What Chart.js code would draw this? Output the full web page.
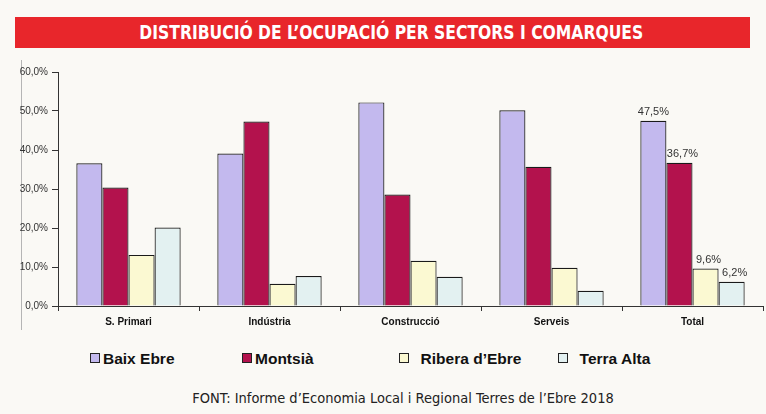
<!DOCTYPE html>
<html>
<head>
<meta charset="utf-8">
<script src="https://cdn.jsdelivr.net/npm/chart.js@4.4.1/dist/chart.umd.min.js"></script>
<style>
  body { margin: 0; background: #faf9f5; }
  #wrap { position: relative; width: 766px; height: 414px; overflow: hidden; background: #faf9f5; }
  #titol {
    position: absolute; left: 15px; top: 17px; width: 735px; height: 31px;
    background: #e8262b; color: #fff; text-align: center;
    font: bold 19px "DejaVu Sans", sans-serif;
    line-height: 31px;
  }
  #titol span { display: inline-block; transform: translateX(9px) scaleX(0.82); transform-origin: center; }
  #vora { position: absolute; left: 21px; top: 60px; width: 1px; height: 270px; background: #b5b5b5; }
  #graf { position: absolute; left: 0; top: 60px; width: 766px; height: 273px; }
  #llegenda { position: absolute; top: 350px; left: 0; width: 766px; height: 22px;
    font: bold 15.5px "Liberation Sans", Arial, sans-serif; color: #111; }
  #llegenda span { position: absolute; top: 0; white-space: nowrap; }
  #llegenda i { display: inline-block; width: 8px; height: 8px; border: 1px solid #222; margin-right: 3px; vertical-align: 1px; }
  #font { position: absolute; top: 390px; left: 20px; width: 766px; text-align: center;
    font: 14.5px "Liberation Sans Narrow", "DejaVu Sans Condensed", sans-serif; color: #222; }
</style>
</head>
<body>
<div id="wrap">
  <div id="titol"><span>DISTRIBUCIÓ DE L’OCUPACIÓ PER SECTORS I COMARQUES</span></div>
  <div id="vora"></div>
  <div id="graf"><canvas id="grafic"></canvas></div>
  <div id="llegenda"></div>
  <div id="font">FONT: Informe d’Economia Local i Regional Terres de l’Ebre 2018</div>
</div>
<script>
// sectors i comarques
const sectors = ['S. Primari', 'Indústria', 'Construcció', 'Serveis', 'Total'];
const comarques = ['Baix Ebre', 'Montsià', 'Ribera d’Ebre', 'Terra Alta'];

// percentatges llegits del gràfic
const baixEbre = [36.6, 39.1, 52.2, 50.2, 47.5];
const montsia = [30.4, 47.3, 28.6, 35.7, 36.7];
const riberaEbre = [13.1, 5.7, 11.6, 9.8, 9.6];
const terraAlta = [20.1, 7.7, 7.5, 3.9, 6.2];

const colors = ['#c3b9ee', '#b3124d', '#fbf9d2', '#e3f1f1'];
const valors = [baixEbre, montsia, riberaEbre, terraAlta];

// posicio de la llegenda (x de cada element)
const posLlegenda = [90, 242, 399, 558];

const llegenda = document.getElementById('llegenda');
comarques.forEach(function (nom, i) {
  const s = document.createElement('span');
  s.style.left = posLlegenda[i] + 'px';
  s.innerHTML = '<i style="background:' + colors[i] + '"></i>' + (i > 1 ? '&nbsp;&nbsp;' : '') + nom;
  llegenda.appendChild(s);
});

function percent(v) {
  return v.toFixed(1).replace('.', ',') + '%';
}

// etiquetes només al grup Total
const etiquetesTotal = {
  id: 'etiquetesTotal',
  afterDatasetsDraw(chart) {
    const ctx = chart.ctx;
    const idx = sectors.length - 1;
    ctx.save();
    ctx.font = '11px "Liberation Sans", Arial, sans-serif';
    ctx.fillStyle = '#333';
    ctx.textAlign = 'center';
    ctx.textBaseline = 'bottom';
    chart.data.datasets.forEach(function (ds, i) {
      const bar = chart.getDatasetMeta(i).data[idx];
      ctx.fillText(percent(ds.data[idx]), bar.x + (i > 0 ? 3 : 0), bar.y - 3);
    });
    ctx.restore();
  }
};

const dataOcupacio = {
  labels: sectors,
  datasets: comarques.map(function (nom, i) {
    return {
      label: nom,
      data: valors[i],
      backgroundColor: colors[i],
      borderColor: '#1a1a1a',
      borderWidth: 1.2,
      categoryPercentage: 0.74,
      barPercentage: 1.0,
    };
  })
};

const configOcupacio = {
  type: 'bar',
  data: dataOcupacio,
  options: {
    responsive: true,
    maintainAspectRatio: false,
    animation: false,
    layout: { padding: { top: 12, right: 3, left: 0, bottom: 0 } },
    plugins: {
      legend: { display: false },
      tooltip: { enabled: false },
    },
    scales: {
      x: {
        grid: { drawOnChartArea: false, drawTicks: true, tickLength: 5, color: '#333' },
        border: { color: '#333', width: 1 },
        ticks: { color: '#111', font: { family: '"Liberation Sans", Arial, sans-serif', size: 10, weight: 'bold' }, padding: 5 },
      },
      y: {
        min: 0,
        max: 60,
        afterFit(scale) { scale.width = 58; },
        grid: { drawOnChartArea: false, drawTicks: true, tickLength: 6, color: '#333' },
        border: { color: '#333', width: 1 },
        ticks: {
          stepSize: 10,
          color: '#333',
          padding: 4,
          font: { family: '"Liberation Sans", Arial, sans-serif', size: 10 },
          callback: function (v) { return percent(v); }
        },
      }
    }
  },
  plugins: [etiquetesTotal]
};

const grafic = new Chart(document.getElementById('grafic'), configOcupacio);
</script>
</body>
</html>
